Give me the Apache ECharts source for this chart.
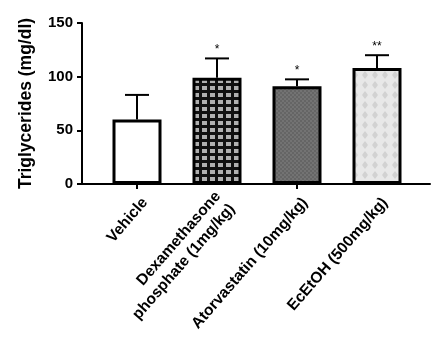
<!DOCTYPE html>
<html><head><meta charset="utf-8">
<script src="https://cdn.jsdelivr.net/npm/echarts@6/dist/echarts.min.js"></script>
<style>html,body{margin:0;padding:0;background:#fff}#c{width:441px;height:345px}</style>
</head><body><div id="c"></div>
<script>
var categories = ['Vehicle', 'Dexamethasone\nphosphate (1mg/kg)', 'Atorvastatin (10mg/kg)', 'EcEtOH (500mg/kg)'];
var means = [60, 99, 91, 108];
var errUpper = [83, 117, 97.5, 120];
var stars = ['', '*', '*', '**'];
var yTicks = [0, 50, 100, 150];

function makePattern(w, h, draw) {
  var c = document.createElement('canvas'); c.width = w; c.height = h;
  var g = c.getContext('2d'); draw(g, w, h);
  return { image: c, repeat: 'repeat' };
}
var patWhite = '#ffffff';
var patGrid = makePattern(8, 7, function (g) {
  g.fillStyle = '#111'; g.fillRect(0, 0, 8, 7);
  g.fillStyle = '#b0b0b0'; g.fillRect(2, 2, 5, 4);
});
var patGray = makePattern(4, 4, function (g) {
  g.fillStyle = '#737373'; g.fillRect(0, 0, 4, 4);
  g.fillStyle = '#656565'; g.fillRect(0, 0, 2, 2); g.fillRect(2, 2, 2, 2);
});
var patLight = makePattern(10, 10, function (g) {
  g.fillStyle = '#e8e8e8'; g.fillRect(0, 0, 10, 10);
  g.fillStyle = '#d2d2d2';
  g.beginPath(); g.moveTo(5, 1); g.lineTo(8, 5); g.lineTo(5, 9); g.lineTo(2, 5); g.closePath(); g.fill();
});
var fills = [patWhite, patGrid, patGray, patLight];

var chart = echarts.init(document.getElementById('c'), null, { renderer: 'canvas' });
var FONT = 'Liberation Sans';
chart.setOption({
  animation: false,
  grid: [
    { left: 97, width: 320, top: 23, bottom: 161 },
    { left: 82, right: 11, top: 23, bottom: 161 },
    { left: 105, width: 320, top: 23, bottom: 161 }
  ],
  xAxis: [
    { type: 'category', gridIndex: 0, data: categories,
      axisLine: { show: false },
      axisTick: { show: true, alignWithLabel: true, length: 5, lineStyle: { color: '#000', width: 2 } },
      axisLabel: { show: false } },
    { type: 'value', gridIndex: 1, min: 0, max: 1,
      axisLine: { show: true, lineStyle: { color: '#000', width: 2 } },
      axisTick: { show: false }, axisLabel: { show: false }, splitLine: { show: false } },
    { type: 'category', gridIndex: 2, data: categories,
      axisLine: { show: false }, axisTick: { show: false },
      axisLabel: { rotate: 49, interval: 0, margin: 16, color: '#000', fontFamily: FONT, fontWeight: 'bold', fontSize: 15.5, lineHeight: 19, align: 'right' } }
  ],
  yAxis: [
    { type: 'value', gridIndex: 0, min: 0, max: 150, interval: 50, show: false, splitLine: { show: false } },
    { type: 'value', gridIndex: 1, min: 0, max: 150, interval: 50,
      name: 'Triglycerides (mg/dl)', nameLocation: 'middle', nameGap: 47,
      nameTextStyle: { color: '#000', fontFamily: FONT, fontWeight: 'bold', fontSize: 17.5 },
      axisLine: { show: true, lineStyle: { color: '#000', width: 2 } },
      axisTick: { show: true, length: 5, lineStyle: { color: '#000', width: 2 } },
      axisLabel: { color: '#000', fontFamily: FONT, fontWeight: 'bold', fontSize: 15, margin: 9,
        formatter: function (v) { return yTicks.indexOf(v) >= 0 ? String(v) : ''; } },
      splitLine: { show: false } },
    { type: 'value', gridIndex: 2, min: 0, max: 150, show: false, splitLine: { show: false } }
  ],
  series: [
    { type: 'custom', xAxisIndex: 0, yAxisIndex: 0, z: 1,
      data: means.map(function (m, i) { return [i, m, errUpper[i]]; }),
      renderItem: function (params, api) {
        var i = api.value(0);
        var p0 = api.coord([i, api.value(1)]);
        var p1 = api.coord([i, api.value(2)]);
        var hw = 12;
        return { type: 'group', children: [
          { type: 'line', shape: { x1: p0[0], y1: p0[1], x2: p1[0], y2: p1[1] }, style: { stroke: '#000', lineWidth: 2 } },
          { type: 'line', shape: { x1: p1[0] - hw, y1: p1[1], x2: p1[0] + hw, y2: p1[1] }, style: { stroke: '#000', lineWidth: 2 } },
          { type: 'text', x: p1[0], y: p1[1] - 3, style: { text: stars[i], fill: '#000', fontSize: 12, fontFamily: FONT, align: 'center', verticalAlign: 'bottom' } }
        ] };
      } },
    { type: 'bar', xAxisIndex: 0, yAxisIndex: 0, barWidth: 49, z: 2,
      data: means.map(function (m, i) {
        return { value: m, itemStyle: { color: fills[i], borderColor: '#000', borderWidth: 3 } };
      }) }
  ]
});
</script></body></html>
